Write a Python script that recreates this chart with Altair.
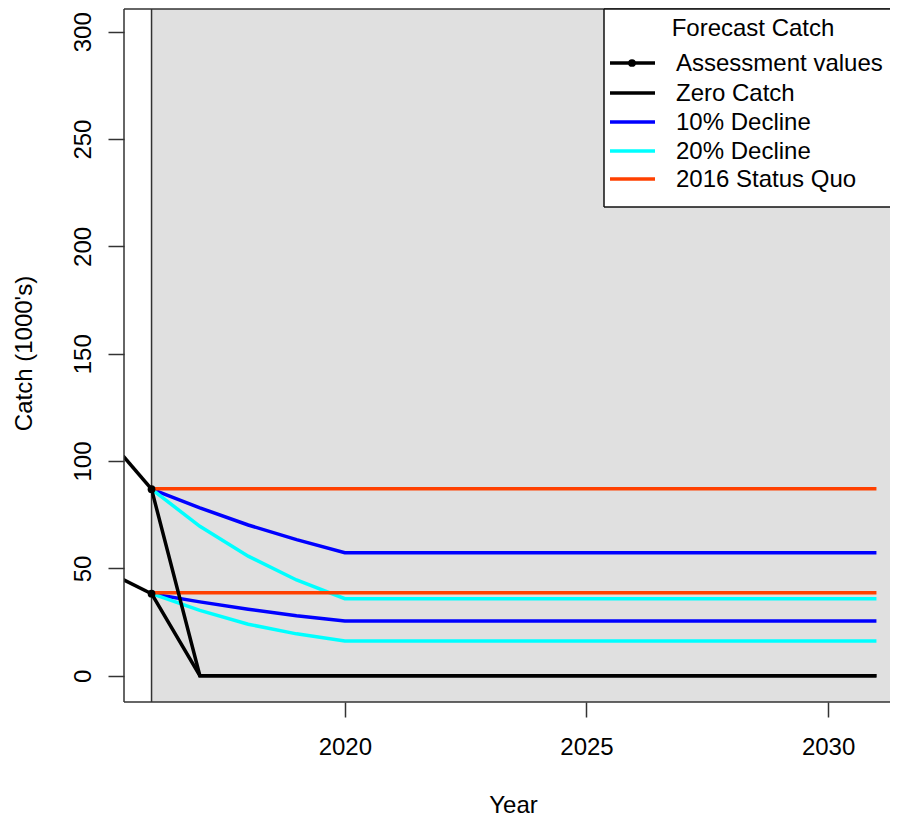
import altair as alt
import pandas as pd

FONT = "Liberation Sans"
W, H = 765, 693
x_domain = [2015.43, 2031.26]
y_domain = [-12.25, 310.6]

# ---------------- data ----------------
assess_years = [2015, 2016]
assess_upper = [113.2, 86.9]
assess_lower = [49.4, 38.2]

zero_years = [2016, 2017, 2031]
zero_upper = [86.9, 0.0, 0.0]
zero_lower = [38.2, 0.0, 0.0]

decl_years = [2016, 2017, 2018, 2019, 2020, 2031]
d10_upper = [86.9, 78.2, 70.2, 63.4, 57.3, 57.3]
d10_lower = [38.2, 34.4, 31.0, 27.9, 25.5, 25.5]
d20_upper = [86.9, 69.6, 55.7, 44.6, 35.9, 35.9]
d20_lower = [38.2, 30.4, 24.0, 19.5, 16.2, 16.2]

sq_years = [2016, 2031]
sq_upper = [87.1, 87.1]
sq_lower = [38.6, 38.6]

forecast_start = [2016]
x_ticks = [2020, 2025, 2030]
y_ticks = [0, 50, 100, 150, 200, 250, 300]

legend_title = "Forecast Catch"
legend_labels = ["Assessment values", "Zero Catch", "10% Decline", "20% Decline", "2016 Status Quo"]
legend_colors = ["#000000", "#000000", "#0000FF", "#00FFFF", "#FF4000"]


def series_df(years, upper, lower):
    rows = []
    for y, v in zip(years, upper):
        rows.append({"year": y, "catch": v, "grp": "upper"})
    for y, v in zip(years, lower):
        rows.append({"year": y, "catch": v, "grp": "lower"})
    return pd.DataFrame(rows)


xaxis = alt.Axis(
    values=x_ticks, format="d", title="Year",
    labelFont=FONT, titleFont=FONT, labelFontSize=24, titleFontSize=24,
    labelColor="#000000", titleColor="#000000", titleFontWeight="normal",
    tickSize=15, tickWidth=1.5, tickColor="#333333", domain=False, grid=False,
    labelPadding=18, labelFlush=False, labelOverlap=False,
    titleX=389, titleY=110, titleAlign="center", titleBaseline="alphabetic",
)
yaxis = alt.Axis(
    values=y_ticks, title="Catch (1000's)",
    labelFont=FONT, titleFont=FONT, labelFontSize=24, titleFontSize=24,
    labelColor="#000000", titleColor="#000000", titleFontWeight="normal",
    tickSize=16, tickWidth=1.5, tickColor="#333333", domain=False, grid=False,
    labelAngle=270, labelAlign="center", labelBaseline="alphabetic", labelPadding=18,
    labelFlush=False, labelOverlap=False,
    titleAngle=270, titleX=-93, titleY=344, titleAlign="center", titleBaseline="alphabetic",
)

X = alt.X("year:Q", scale=alt.Scale(domain=x_domain, nice=False, zero=False), axis=xaxis)
Y = alt.Y("catch:Q", scale=alt.Scale(domain=y_domain, nice=False, zero=False), axis=yaxis)

one = pd.DataFrame({"a": [0]})
RIGHT = W + 1

bg = alt.Chart(pd.DataFrame({"year": forecast_start})).mark_rect(color="#E0E0E0").encode(
    x=X, x2=alt.value(RIGHT), y=alt.value(0), y2=alt.value(H)
)
vline = alt.Chart(pd.DataFrame({"year": forecast_start})).mark_rule(
    color="#333333", strokeWidth=1.5
).encode(x=X)


def line_layer(df, color):
    return alt.Chart(df).mark_line(color=color, strokeWidth=3.5, clip=True).encode(
        x=X, y=Y, detail="grp:N"
    )


l10 = line_layer(series_df(decl_years, d10_upper, d10_lower), legend_colors[2])
l20 = line_layer(series_df(decl_years, d20_upper, d20_lower), legend_colors[3])
lsq = line_layer(series_df(sq_years, sq_upper, sq_lower), legend_colors[4])
lzero = line_layer(series_df(zero_years, zero_upper, zero_lower), legend_colors[1])
assess_df = series_df(assess_years, assess_upper, assess_lower)
lass = line_layer(assess_df, legend_colors[0])
pass_ = alt.Chart(assess_df).mark_point(
    filled=True, color="#000000", size=60, opacity=1, clip=True
).encode(x=X, y=Y)

frame_col = "#333333"
frame = [
    alt.Chart(one).mark_rule(color=frame_col, strokeWidth=1.5).encode(
        x=alt.value(0), y=alt.value(0), y2=alt.value(H)),
    alt.Chart(one).mark_rule(color=frame_col, strokeWidth=1.5).encode(
        x=alt.value(0), x2=alt.value(RIGHT), y=alt.value(0)),
    alt.Chart(one).mark_rule(color=frame_col, strokeWidth=1.5).encode(
        x=alt.value(0), x2=alt.value(RIGHT), y=alt.value(H)),
]

# ---------------- manual legend ----------------
LX0 = 480
LY1 = 198
box = alt.Chart(one).mark_rect(fill="#FFFFFF").encode(
    x=alt.value(LX0), x2=alt.value(RIGHT), y=alt.value(0), y2=alt.value(LY1)
)
leg = [box]
for enc in [
    dict(x=alt.value(LX0), y=alt.value(0), y2=alt.value(LY1)),
    dict(x=alt.value(LX0), x2=alt.value(RIGHT), y=alt.value(0)),
    dict(x=alt.value(LX0), x2=alt.value(RIGHT), y=alt.value(LY1)),
]:
    leg.append(alt.Chart(one).mark_rule(color="#111111", strokeWidth=1.5).encode(**enc))
leg.append(alt.Chart(one).mark_text(
    font=FONT, fontSize=24, align="center", baseline="middle", color="#000000"
).encode(x=alt.value(629), y=alt.value(20), text=alt.value(legend_title)))
row_y = [54, 84, 113, 142, 170]
for lab, col, ry in zip(legend_labels, legend_colors, row_y):
    leg.append(alt.Chart(one).mark_rule(color=col, strokeWidth=3.5).encode(
        x=alt.value(486), x2=alt.value(531), y=alt.value(ry)))
    leg.append(alt.Chart(one).mark_text(
        font=FONT, fontSize=24, align="left", baseline="middle", color="#000000"
    ).encode(x=alt.value(552), y=alt.value(ry + 1), text=alt.value(lab)))
leg.append(alt.Chart(one).mark_point(filled=True, color="#000000", size=60, opacity=1).encode(
    x=alt.value(508), y=alt.value(row_y[0])))

chart = alt.layer(
    bg, vline, l10, l20, lsq, lzero, lass, pass_, *frame, *leg
).properties(
    width=W, height=H,
    padding={"left": 116, "top": 1, "right": 1, "bottom": 115},
    autosize=alt.AutoSizeParams(type="none"),
    background="#FFFFFF",
).configure_view(stroke=None)

chart.save("out.html", embed_options={"renderer": "svg", "actions": False})
